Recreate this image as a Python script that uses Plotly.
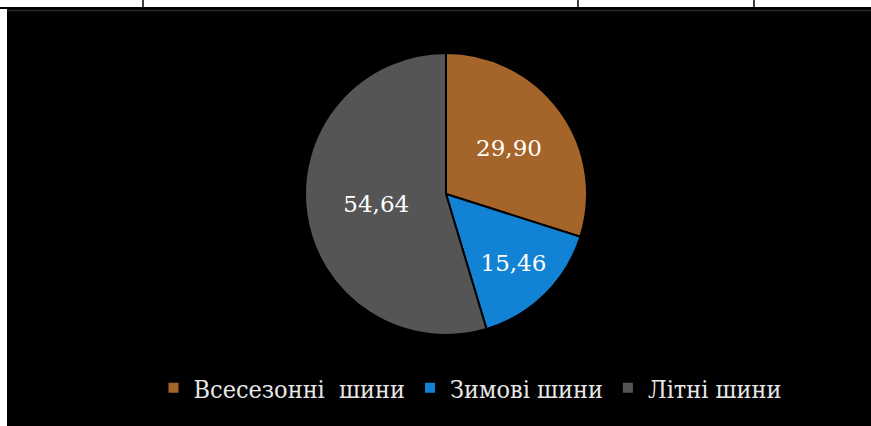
import plotly.graph_objects as go

categories = ["Всесезонні\u00a0 шини", "Зимові шини", "Літні шини"]
values = [29.90, 15.46, 54.64]
value_labels = ["29,90", "15,46", "54,64"]
colors = ["#A5652A", "#1283D4", "#555555"]

W, H = 871, 426
cx, cy, r = 446, 194, 141
FONT = "DejaVu Serif"
LFONT = "DejaVu Serif Condensed, DejaVu Serif"

fig = go.Figure(go.Pie(
    labels=categories,
    values=values,
    text=value_labels,
    textinfo="text",
    textposition="inside",
    insidetextorientation="horizontal",
    textfont=dict(family=FONT, size=23, color="#ffffff"),
    marker=dict(colors=colors, line=dict(color="#000000", width=2)),
    sort=False,
    direction="clockwise",
    rotation=0,
    hoverinfo="skip",
    domain=dict(x=[(cx - r) / W, (cx + r) / W], y=[(H - cy - r) / H, (H - cy + r) / H]),
))

shapes = [
    dict(type="rect", xref="paper", yref="paper", x0=7 / W, x1=1, y0=0, y1=(H - 9) / H,
         fillcolor="#000000", line=dict(width=0), layer="below"),
    dict(type="line", xref="paper", yref="paper", x0=0, x1=1, y0=(H - 8) / H, y1=(H - 8) / H,
         line=dict(color="#000000", width=2), layer="below"),
    dict(type="line", xref="paper", yref="paper", x0=7 / W, x1=1, y0=(H - 10.5) / H, y1=(H - 10.5) / H,
         line=dict(color="#2a2a2a", width=1.5), layer="below"),
]
for vx in [143, 578, 754]:
    shapes.append(dict(type="line", xref="paper", yref="paper", x0=vx / W, x1=vx / W,
                       y0=(H - 8) / H, y1=1, line=dict(color="#000000", width=1.5), layer="below"))

fig.update_layout(
    width=W, height=H,
    margin=dict(l=0, r=0, t=0, b=0),
    paper_bgcolor="#ffffff",
    plot_bgcolor="#000000",
    shapes=shapes,
    showlegend=True,
    legend=dict(
        orientation="h", x=470 / W, xanchor="center", y=(H - 388) / H, yanchor="middle",
        font=dict(family=LFONT, size=25, color="#e8e8e8"),
        bgcolor="rgba(0,0,0,0)", itemclick=False, traceorder="normal",
    ),
)

fig.write_html("out.html", config={"displayModeBar": False},
               post_script="document.body.style.margin='0';document.body.style.overflow='hidden';")
